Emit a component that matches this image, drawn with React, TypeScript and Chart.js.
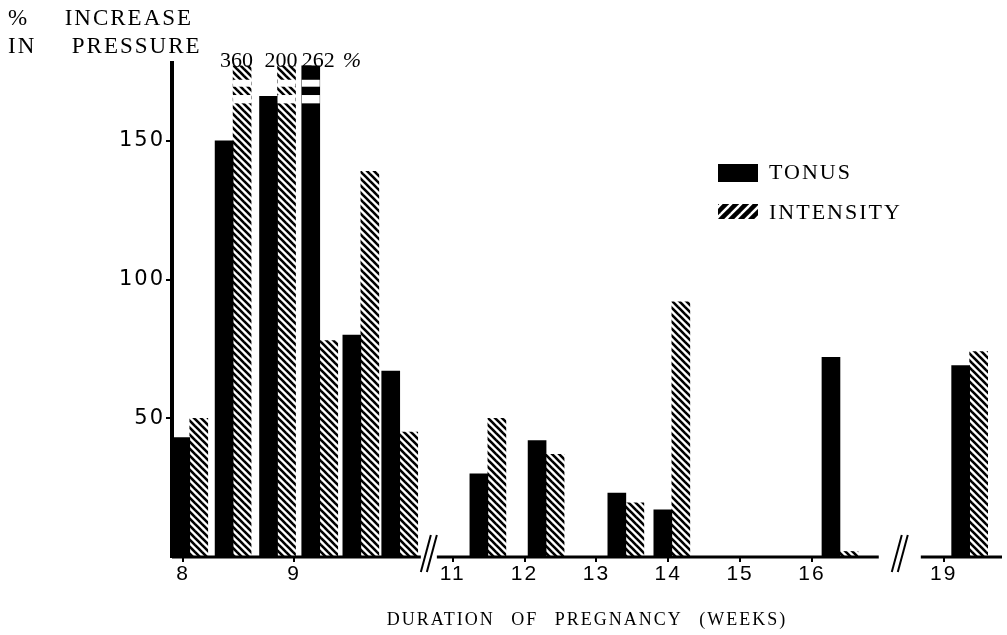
import { useEffect, useRef } from "react";
import { Chart, LinearScale, registerables } from "chart.js";
import type { Plugin } from "chart.js";

const SERIF = "'Liberation Serif', 'Times New Roman', serif";
const SANS = "'Liberation Sans', Arial, sans-serif";
const WIDE = "'DejaVu Sans', sans-serif";
const INK = "#000";

// week at which each pair of bars sits (the join between the two bars)
const WEEKS = [8.06, 8.45, 8.85, 9.23, 9.6, 9.95, 11.49, 12.3, 13.41, 14.05, 16.39, 19.36];
const TONUS = [43, 150, 166, 262, 80, 67, 30, 42, 23, 17, 72, 69];
const INTENSITY = [50, 360, 200, 78, 139, 45, 50, 37, 19.5, 92, 2, 74];

const WEEK_TICKS = [8, 9, 11, 12, 13, 14, 15, 16, 19];
const PCT_TICKS = [50, 100, 150];

// the week axis is broken twice, and its first stretch is drawn wider
const SEGMENTS = [
  { from: 7.9, to: 10.14, stretch: 1.546 },
  { from: 10.78, to: 16.93, stretch: 1 },
  { from: 18.68, to: 19.81, stretch: 1 },
];
const GAPS = [0.223, 0.585];

const Y_MAX = 178;
const CAP = 177; // bars above this are cut short and drawn broken
const CUTS = [
  [169.5, 172],
  [163.5, 166.5],
];

class BrokenScale extends LinearScale {
  static id = "broken";

  segmentPixels() {
    const units =
      SEGMENTS.reduce((s, g) => s + (g.to - g.from) * g.stretch, 0) + GAPS.reduce((s, g) => s + g, 0);
    const k = this.width / units;
    let px = this.left;
    return SEGMENTS.map((g, i) => {
      const start = px;
      const end = start + (g.to - g.from) * g.stretch * k;
      px = end + (GAPS[i] || 0) * k;
      return { ...g, start, end };
    });
  }

  getPixelForValue(value: number) {
    const segs = this.segmentPixels();
    let s = segs[0];
    for (const seg of segs) if (value >= seg.from) s = seg;
    return s.start + ((value - s.from) / (s.to - s.from)) * (s.end - s.start);
  }

  getValueForPixel(pixel: number) {
    const segs = this.segmentPixels();
    let s = segs[0];
    for (const seg of segs) if (pixel >= seg.start) s = seg;
    return s.from + ((pixel - s.start) / (s.end - s.start)) * (s.to - s.from);
  }
}

Chart.register(...registerables, BrokenScale);

function hatch(size: number, width: number, slash: boolean) {
  const c = document.createElement("canvas");
  c.width = c.height = size;
  const g = c.getContext("2d")!;
  g.fillStyle = "#fff";
  g.fillRect(0, 0, size, size);
  g.strokeStyle = INK;
  g.lineWidth = width;
  g.lineCap = "square";
  for (const k of [-size, 0, size]) {
    g.beginPath();
    if (slash) {
      g.moveTo(k, size);
      g.lineTo(k + size, 0);
    } else {
      g.moveTo(k, 0);
      g.lineTo(k + size, size);
    }
    g.stroke();
  }
  return g.createPattern(c, "repeat")!;
}

export default function App() {
  const ref = useRef<HTMLCanvasElement>(null);

  useEffect(() => {
    if (!ref.current) return;
    const barHatch = hatch(7, 2.6, false);
    const keyHatch = hatch(10, 4.5, true);

    // bars that run off the top: white cuts plus the real value above them
    const capped: Plugin<"bar"> = {
      id: "capped",
      afterDatasetsDraw(chart) {
        const { ctx } = chart;
        const y = chart.scales.y;
        let lastRight = -Infinity;
        let lastBase = 0;
        [TONUS, INTENSITY].forEach((values, d) => {
          const meta = chart.getDatasetMeta(d);
          values.forEach((v, i) => {
            if (v <= CAP) return;
            const bar = meta.data[i] as any;
            const left = bar.x - bar.width / 2;
            const right = bar.x + bar.width / 2;
            ctx.save();
            ctx.fillStyle = "#fff";
            for (const [lo, hi] of CUTS) {
              const t = y.getPixelForValue(hi);
              ctx.fillRect(left, t, bar.width, y.getPixelForValue(lo) - t);
            }
            (ctx as any).letterSpacing = "0px";
            ctx.fillStyle = INK;
            ctx.font = `22px ${SERIF}`;
            ctx.textBaseline = "alphabetic";
            const label = String(v);
            const w = ctx.measureText(label).width;
            // tonus values start at their bar, intensity values end at theirs
            const x0 = d === 0 ? left : right + 2 - w;
            ctx.fillText(label, x0, bar.y + 1);
            if (x0 + w > lastRight) {
              lastRight = x0 + w;
              lastBase = bar.y + 1;
            }
            ctx.restore();
          });
        });
        if (lastRight > -Infinity) {
          ctx.save();
          (ctx as any).letterSpacing = "0px";
          ctx.fillStyle = INK;
          ctx.font = `italic 22px ${SERIF}`;
          ctx.fillText("%", lastRight + 8, lastBase);
          ctx.restore();
        }
      },
    };

    // base line in pieces with the // marks between them
    const brokenAxis: Plugin<"bar"> = {
      id: "brokenAxis",
      afterDatasetsDraw(chart) {
        const { ctx } = chart;
        const x = chart.scales.x as unknown as BrokenScale;
        const y0 = chart.scales.y.getPixelForValue(0);
        const segs = x.segmentPixels();
        ctx.save();
        ctx.strokeStyle = INK;
        segs.forEach((s, i) => {
          ctx.lineWidth = 3;
          ctx.beginPath();
          ctx.moveTo(s.start, y0);
          ctx.lineTo(s.end, y0);
          ctx.stroke();
          if (i < segs.length - 1) {
            const mid = (s.end + segs[i + 1].start) / 2;
            ctx.lineWidth = 2;
            for (const dx of [-3, 3]) {
              ctx.beginPath();
              ctx.moveTo(mid + dx - 5, y0 + 15);
              ctx.lineTo(mid + dx + 5, y0 - 22);
              ctx.stroke();
            }
          }
        });
        ctx.restore();
      },
    };

    const key: Plugin<"bar"> = {
      id: "key",
      afterDraw(chart) {
        const { ctx } = chart;
        chart.data.datasets.forEach((ds, i) => {
          const top = 164 + i * 40;
          ctx.save();
          ctx.fillStyle = i === 0 ? INK : keyHatch;
          ctx.fillRect(718, top, 40, i === 0 ? 18 : 15);
          ctx.fillStyle = INK;
          ctx.font = `22px ${SERIF}`;
          ctx.textBaseline = "middle";
          ctx.fillText(ds.label ?? "", 769, top + 9);
          ctx.restore();
        });
      },
    };

    const spacing: Plugin<"bar"> = {
      id: "spacing",
      beforeDraw(chart) {
        (chart.ctx as any).letterSpacing = "2px";
        (chart.ctx as any).wordSpacing = "10px";
      },
      afterDraw(chart) {
        (chart.ctx as any).letterSpacing = "0px";
        (chart.ctx as any).wordSpacing = "0px";
      },
    };

    const chart = new Chart(ref.current, {
      type: "bar",
      data: {
        labels: WEEKS,
        datasets: [
          { label: "TONUS", data: TONUS.map((v) => Math.min(v, CAP)), backgroundColor: INK, barThickness: 18 },
          { label: "INTENSITY", data: INTENSITY.map((v) => Math.min(v, CAP)), backgroundColor: barHatch, barThickness: 18 },
        ],
      },
      options: {
        animation: false,
        responsive: true,
        maintainAspectRatio: false,
        events: [],
        layout: { padding: { left: 8, right: 5, top: 0, bottom: 0 } },
        plugins: {
          legend: { display: false },
          tooltip: { enabled: false },
          title: {
            display: true,
            align: "start",
            text: ["%  INCREASE", "IN  PRESSURE"],
            color: INK,
            font: { family: SERIF, size: 23, weight: "normal", lineHeight: 1.22 },
            padding: { top: 5, bottom: 2 },
          },
        },
        scales: {
          x: {
            type: "broken" as any,
            min: SEGMENTS[0].from,
            max: SEGMENTS[SEGMENTS.length - 1].to,
            offset: false,
            afterBuildTicks: (s: any) => {
              s.ticks = WEEK_TICKS.map((value) => ({ value }));
            },
            afterFit: (s: any) => {
              s.height = 78;
            },
            grid: { offset: false, drawOnChartArea: false, drawTicks: true, tickLength: 5, color: INK, lineWidth: 2 },
            border: { display: false },
            ticks: {
              color: INK,
              font: { family: SANS, size: 21 },
              padding: 0,
              autoSkip: false,
              maxRotation: 0,
              callback: (v: any) => String(v),
            },
            title: {
              display: true,
              text: "DURATION OF PREGNANCY (WEEKS)",
              color: INK,
              font: { family: SERIF, size: 18 },
              padding: { top: 0, bottom: 4 },
            },
          } as any,
          y: {
            min: 0,
            max: Y_MAX,
            afterBuildTicks: (s: any) => {
              s.ticks = PCT_TICKS.map((value) => ({ value }));
            },
            afterFit: (s: any) => {
              s.width = 164;
            },
            grid: { drawOnChartArea: false, drawTicks: true, tickLength: 6, color: INK, lineWidth: 2 },
            border: { display: true, color: INK, width: 4 },
            ticks: { color: INK, font: { family: WIDE, size: 21 }, padding: 1 },
          },
        },
      },
      plugins: [capped, brokenAxis, key, spacing],
    });
    return () => chart.destroy();
  }, []);

  return (
    <div style={{ position: "fixed", left: 0, top: 0, width: 1007, height: 635, background: "#fff" }}>
      <canvas ref={ref} />
    </div>
  );
}
